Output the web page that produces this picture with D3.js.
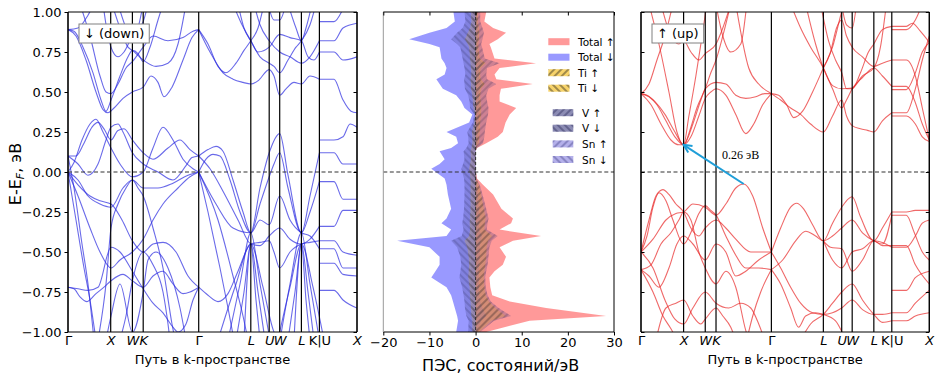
<!DOCTYPE html>
<html>
<head>
<meta charset="utf-8">
<script src="https://cdn.jsdelivr.net/npm/d3@7"></script>
<style>
  body { margin: 0; background: #fff; }
  text { font-family: "DejaVu Sans", sans-serif; }
</style>
</head>
<body>
<svg id="chart" width="941" height="382"></svg>
<script>
// ---------- k-path: positions of the high-symmetry points (arb. path units) ----------
const kTicks  = [0, 42.7, 64.4, 75.2, 130.7, 182.8, 201.2, 211.7, 233.4, 251.4, 289];
const kLabels = ["Γ", "X", "W", "K", "Γ", "L", "U", "W", "L", "K|U", "X"];
const kItalic = [false, true, true, true, false, true, true, true, true, false, true];
const eTicks  = [1, 0.75, 0.5, 0.25, 0, -0.25, -0.5, -0.75, -1];
const dosTicks = [-20, -10, 0, 10, 20, 30];

// ---------- spin-down bands, [k, E-EF] pairs ----------
const bandsDown = [
  // Γ-X-W-K-Γ, conduction
  [[0,0.89],[8,0.85],[18,0.7],[28,0.5],[35,0.39],[40,0.37],[46,0.4],[55,0.46],[64.4,0.5],[75.2,0.53],[83,0.6],[90,0.56],[96,0.47],[104,0.53],[115,0.7],[124,0.84],[130.7,0.89]],
  [[0,0.89],[6,0.88],[15,0.78],[25,0.62],[33,0.45],[38,0.38],[43,0.45],[52,0.6],[60,0.72],[64.4,0.76],[70,0.74],[75.2,0.69],[82,0.78],[90,0.95],[95,1.05]],
  [[0,0.89],[10,0.9],[20,0.98],[26,1.05]],
  [[12,1.05],[22,0.85],[32,0.6],[38,0.5],[43,0.49],[50,0.55],[58,0.65],[64.4,0.69],[75.2,0.78],[85,0.85],[100,0.82],[115,0.84],[125,0.88],[130.7,0.89]],
  [[35,1.05],[40,0.85],[43,0.78],[50,0.72],[56,0.75],[64.4,0.85],[75.2,0.94],[80,1.05]],
  [[44,1.05],[52,0.9],[60,0.78],[64.4,0.76],[75.2,0.7],[88,0.66],[100,0.68],[110,0.8],[118,1.05]],
  [[50,1.05],[58,0.9],[64.4,0.82],[70,0.9],[75.2,1.05]],
  // Γ-X-W-K-Γ, valence
  [[0,0.1],[8,0.1],[16,0.18],[24,0.28],[30,0.31],[36,0.27],[43,0.2],[50,0.26],[56,0.27],[64.4,0.2],[75.2,0.12],[85,0.08],[100,0.15],[112,0.2],[122,0.14],[130.7,0.1]],
  [[0,0],[6,0.06],[14,0.2],[22,0.3],[28,0.33],[35,0.25],[43,0.15],[52,0.05],[64.4,-0.03],[75.2,0],[85,0.15],[95,0.28],[105,0.2],[115,0.08],[125,0.02],[130.7,0]],
  [[0,0.1],[10,0.05],[20,-0.02],[30,0.05],[38,0.2],[43,0.28],[50,0.3],[55,0.25],[64.4,0.12],[75.2,0.05],[90,0],[105,-0.05],[118,0.04],[124,0.09],[130.7,0.1]],
  [[0,0],[10,-0.05],[20,-0.15],[32,-0.2],[43,-0.22],[55,-0.1],[64.4,-0.05],[75.2,-0.1],[90,-0.1],[105,-0.07],[120,-0.02],[130.7,0]],
  [[0,0],[10,-0.08],[22,-0.15],[32,-0.18],[43,-0.2],[54,-0.3],[64.4,-0.43],[75.2,-0.5],[85,-0.45],[95,-0.44],[108,-0.5],[120,-0.65],[130.7,-0.72]],
  [[0,0],[10,-0.15],[22,-0.35],[32,-0.5],[43,-0.6],[52,-0.55],[64.4,-0.5],[75.2,-0.42],[85,-0.3],[95,-0.2],[110,-0.1],[122,-0.03],[130.7,0]],
  [[0,-0.72],[6,-0.73],[12,-0.78],[19,-0.81],[28,-0.76],[36,-0.72],[43,-0.68],[55,-0.64],[64.4,-0.68],[75.2,-0.72],[85,-0.65],[95,-0.62],[105,-0.7],[115,-0.76],[122,-0.75],[130.7,-0.72]],
  [[0,-0.72],[10,-0.73],[20,-0.74],[30,-0.72],[43,-0.47],[52,-0.5],[64.4,-0.62],[75.2,-0.73],[85,-0.82],[95,-0.88],[105,-0.97],[110,-1],[118,-0.95],[125,-0.8],[130.7,-0.72]],
  [[0,0],[8,-0.3],[16,-0.6],[22,-0.8],[28,-1.05]],
  [[0,0.1],[6,-0.1],[14,-0.45],[20,-0.7],[26,-1.05]],
  [[30,-1.05],[38,-0.7],[43,-0.35],[50,-0.2],[58,-0.1],[64.4,-0.05],[70,-0.1],[75.2,-0.15],[85,-0.35],[95,-0.6],[104,-0.95],[107,-1.05]],
  [[38,-1.05],[43,-0.9],[52,-0.7],[64.4,-1],[75.2,-0.75],[80,-0.55],[88,-0.5],[100,-0.6],[112,-0.85],[118,-1.05]],
  [[52,-1.05],[58,-0.9],[64.4,-0.68],[75.2,-0.5],[85,-0.58],[95,-0.75],[100,-0.95],[102,-1.05]],
  // Γ-L-U-W-L-K, conduction
  [[130.7,0.89],[140,0.8],[150,0.66],[158,0.62],[168,0.68],[176,0.76],[182.8,0.82],[190,0.9],[196,1.05]],
  [[130.7,0.89],[142,0.75],[155,0.62],[165,0.58],[175,0.56],[182.8,0.55],[190,0.57],[201.2,0.64],[206,0.6],[211.7,0.48],[218,0.52],[226,0.56],[233.4,0.55],[242,0.6],[251.4,0.58]],
  [[165,1.05],[174,0.92],[182.8,0.82],[192,0.72],[201.2,0.68],[206,0.66],[211.7,0.62],[220,0.7],[228,0.78],[233.4,0.82],[242,0.92],[248,1.05]],
  [[170,1.05],[176,0.9],[182.8,0.82],[190,0.75],[201.2,0.78],[211.7,0.86],[222,0.84],[233.4,0.82],[240,0.72],[246,0.7],[251.4,0.75]],
  [[186,1.05],[192,0.92],[201.2,0.82],[211.7,0.75],[222,0.72],[233.4,0.68],[242,0.72],[251.4,0.82]],
  [[200,1.05],[206,0.95],[211.7,0.95],[218,1.05]],
  [[220,1.05],[228,0.9],[233.4,0.82],[238,0.9],[244,1.05]],
  // Γ-L-U-W-L-K, valence
  [[130.7,0.1],[140,0.14],[148,0.16],[155,0.13],[165,-0.05],[175,-0.25],[182.8,-0.38],[192,-0.1],[201.2,0.12],[211.7,0.24],[220,-0.02],[233.4,-0.38],[242,-0.15],[251.4,0.12]],
  [[130.7,0],[138,0.08],[145,0.11],[152,0.1],[162,-0.05],[172,-0.25],[182.8,-0.38],[192,-0.2],[201.2,-0.03],[206,0.05],[211.7,0.12],[220,-0.1],[233.4,-0.38],[242,-0.25],[251.4,-0.06]],
  [[130.7,0.1],[142,0.02],[155,-0.12],[170,-0.3],[182.8,-0.45],[192,-0.46],[201.2,-0.4],[211.7,-0.35],[222,-0.42],[233.4,-0.45],[242,-0.42],[251.4,-0.34]],
  [[130.7,-0.72],[140,-0.77],[150,-0.81],[160,-0.76],[170,-0.62],[182.8,-0.45],[192,-0.44],[201.2,-0.43],[206,-0.5],[211.7,-0.6],[222,-0.5],[233.4,-0.45],[242,-0.44],[251.4,-0.43]],
  [[130.7,0],[148,-0.2],[165,-0.35],[182.8,-0.38],[192,-0.3],[201.2,-0.33],[211.7,-0.15],[222,-0.3],[233.4,-0.38],[242,-0.4],[251.4,-0.48]],
  [[130.7,0],[150,-0.3],[165,-0.65],[175,-0.9],[180,-1.05]],
  [[130.7,0],[140,-0.25],[152,-0.6],[160,-0.85],[166,-1.05]],
  [[160,-1.05],[172,-0.7],[182.8,-0.38],[192,-0.7],[202,-1.05]],
  [[168,-1.05],[176,-0.75],[182.8,-0.45],[190,-0.75],[197,-1.05]],
  [[150,-1.05],[168,-0.7],[182.8,-0.45],[195,-0.72],[206,-1],[211.7,-1.05]],
  [[176,-1.05],[182.8,-0.45],[188,-0.8],[192,-1.05]],
  [[212,-1.05],[222,-0.7],[233.4,-0.38],[242,-0.7],[251.4,-1.05]],
  [[220,-1.05],[227,-0.75],[233.4,-0.45],[240,-0.75],[246,-1.05]],
  [[211.7,-1],[222,-0.72],[233.4,-0.45],[245,-0.72],[256,-1.05]],
  [[226,-1.05],[233.4,-0.45],[238,-0.8],[242,-1.05]],
  // K|U-X
  [[251.4,0.94],[266,0.94],[275,1.02]],
  [[251.4,0.82],[266,0.82],[275,0.9],[289,0.93]],
  [[251.4,0.75],[266,0.75],[275,0.7],[289,0.72]],
  [[251.4,0.58],[266,0.58],[275,0.45],[283,0.38],[289,0.37]],
  [[251.4,0.2],[266,0.2],[275,0.22],[282,0.3],[289,0.28]],
  [[251.4,0.12],[266,0.12],[275,0.05],[289,0.05]],
  [[251.4,-0.06],[266,-0.06],[275,-0.17],[289,-0.17]],
  [[251.4,-0.34],[266,-0.34],[275,-0.24],[289,-0.24]],
  [[251.4,-0.43],[266,-0.43],[275,-0.5],[289,-0.52]],
  [[251.4,-0.48],[266,-0.48],[275,-0.6],[289,-0.6]],
  [[251.4,-0.57],[266,-0.57],[275,-0.64],[289,-0.65]],
  [[251.4,-0.74],[266,-0.74],[275,-0.8],[289,-0.85]]
];

// ---------- spin-up bands ----------
const bandsUp = [
  // conduction, Γ-X-W-K-Γ
  [[0,0.49],[8,0.47],[16,0.42],[25,0.32],[34,0.22],[42.7,0.17],[50,0.22],[58,0.35],[64.4,0.46],[70,0.5],[75.2,0.52],[85,0.48],[95,0.36],[105,0.24],[113,0.3],[122,0.42],[130.7,0.49]],
  [[0,0.49],[6,0.48],[14,0.44],[24,0.36],[34,0.25],[42.7,0.17],[52,0.3],[60,0.45],[64.4,0.52],[75.2,0.56],[85,0.55],[95,0.48],[105,0.46],[115,0.47],[124,0.49],[130.7,0.49]],
  [[0,0.49],[10,0.42],[20,0.3],[30,0.2],[38,0.17],[42.7,0.17],[50,0.28],[56,0.4],[64.4,0.52],[70,0.62],[75.2,0.7],[82,0.85],[90,1.05]],
  [[8,1.05],[18,0.8],[28,0.5],[36,0.25],[42.7,0.17],[48,0.35],[55,0.6],[60,0.8],[66,1.05]],
  [[20,1.05],[30,0.85],[38,0.8],[42.7,0.82],[50,0.75],[58,0.7],[64.4,0.74],[75.2,0.8],[82,0.9],[90,1.05]],
  [[0,0.49],[8,0.55],[16,0.7],[24,0.85],[32,1.05]],
  [[75,1.05],[82,0.85],[90,0.75],[100,0.8],[106,1.05]],
  [[95,1.05],[108,0.65],[118,0.55],[130.7,0.49]],
  // conduction, Γ-L-U-W-L-K
  [[130.7,0.49],[138,0.48],[146,0.42],[153,0.34],[162,0.38],[172,0.5],[182.8,0.65],[192,0.78],[199,0.95],[203,1.05]],
  [[130.7,0.49],[140,0.45],[150,0.4],[160,0.36],[170,0.3],[182.8,0.25],[192,0.35],[201.2,0.45],[206,0.35],[211.7,0.29],[220,0.27],[227,0.26],[233.4,0.25],[242,0.32],[251.4,0.37]],
  [[150,1.05],[160,0.9],[170,0.78],[182.8,0.65],[192,0.52],[201.2,0.4],[206,0.45],[211.7,0.52],[222,0.59],[233.4,0.65],[242,0.6],[251.4,0.535]],
  [[165,1.05],[175,0.8],[182.8,0.65],[192,0.54],[201.2,0.52],[211.7,0.525],[222,0.6],[233.4,0.65],[240,0.78],[246,1.05]],
  [[180,1.05],[188,0.82],[195,0.7],[201.2,0.62],[206,0.52],[211.7,0.52],[220,0.62],[228,0.75],[233.4,0.8],[242,0.89],[251.4,0.91]],
  [[182.8,0.65],[190,0.75],[196,0.9],[201.2,0.95],[206,0.85],[211.7,0.78],[222,0.72],[233.4,0.66],[242,0.68],[251.4,0.7]],
  [[201,1.05],[206,0.92],[211.7,0.9],[216,1.05]],
  // conduction, K|U-X
  [[251.4,0.91],[266,0.91],[272,0.93],[280,0.88],[289,0.81]],
  [[251.4,0.89],[266,0.89],[275,0.95],[282,1.05]],
  [[251.4,0.7],[266,0.7],[275,0.6],[282,0.4],[289,0.2]],
  [[251.4,0.535],[266,0.535],[274,0.45],[282,0.3],[289,0.2]],
  [[251.4,0.515],[266,0.515],[275,0.62],[282,0.75],[289,0.81]],
  [[251.4,0.37],[266,0.37],[275,0.52],[282,0.7],[289,0.85]],
  [[251.4,0.35],[266,0.35],[275,0.3],[282,0.22],[289,0.19]],
  // valence, Γ-X-W-K-Γ
  [[0,-0.5],[12,-0.42],[25,-0.3],[35,-0.26],[42.7,-0.25],[52,-0.2],[64.4,-0.22],[75.2,-0.27],[85,-0.2],[95,-0.1],[103,-0.075],[112,-0.15],[122,-0.35],[130.7,-0.5]],
  [[0,-0.5],[8,-0.3],[15,-0.15],[22,-0.11],[28,-0.14],[35,-0.2],[42.7,-0.25],[50,-0.35],[58,-0.4],[64.4,-0.35],[75.2,-0.3],[85,-0.35],[95,-0.42],[110,-0.5],[122,-0.5],[130.7,-0.5]],
  [[0,-0.5],[6,-0.4],[12,-0.22],[18,-0.13],[25,-0.18],[32,-0.3],[42.7,-0.45],[52,-0.35],[58,-0.26],[64.4,-0.21],[70,-0.24],[75.2,-0.27],[85,-0.4],[95,-0.52],[105,-0.6],[118,-0.6],[130.7,-0.61]],
  [[0,-0.61],[8,-0.65],[18,-0.72],[28,-0.6],[36,-0.45],[42.7,-0.4],[52,-0.45],[64.4,-0.55],[75.2,-0.45],[85,-0.5],[95,-0.65],[105,-0.62],[118,-0.55],[130.7,-0.5]],
  [[0,-0.61],[10,-0.58],[20,-0.45],[30,-0.38],[38,-0.3],[42.7,-0.25],[50,-0.3],[58,-0.5],[64.4,-0.6],[75.2,-0.7],[85,-0.62],[95,-0.72],[105,-0.99],[108,-1.05]],
  [[0,-0.5],[12,-0.6],[24,-0.8],[34,-0.92],[42.7,-0.95],[52,-0.85],[64.4,-0.75],[75.2,-0.82],[88,-0.85],[100,-0.82],[110,-0.85],[118,-0.95],[124,-1.05]],
  [[0,-0.61],[12,-0.75],[22,-0.9],[30,-0.98],[36,-1.05]],
  [[15,-1.05],[25,-0.85],[35,-0.82],[42.7,-0.8],[52,-0.9],[60,-0.95],[64.4,-0.92],[75.2,-0.85],[82,-0.9],[90,-0.97],[95,-1.05]],
  [[106,-1.05],[112,-0.9],[120,-0.75],[130.7,-0.61]],
  // valence, Γ-L-U-W-L-K
  [[130.7,-0.5],[140,-0.35],[150,-0.22],[156,-0.195],[163,-0.23],[172,-0.33],[182.8,-0.43],[192,-0.32],[201.2,-0.22],[206,-0.18],[211.7,-0.155],[220,-0.28],[233.4,-0.43],[242,-0.35],[251.4,-0.25]],
  [[130.7,-0.61],[142,-0.55],[155,-0.43],[165,-0.37],[175,-0.4],[182.8,-0.43],[192,-0.4],[201.2,-0.35],[211.7,-0.3],[222,-0.38],[233.4,-0.43],[242,-0.45],[251.4,-0.27]],
  [[130.7,-0.5],[140,-0.6],[150,-0.72],[160,-0.82],[172,-0.88],[182.8,-0.89],[192,-0.88],[201.2,-0.85],[211.7,-0.8],[222,-0.86],[233.4,-0.89],[242,-0.89],[251.4,-0.88]],
  [[130.7,-0.61],[140,-0.7],[150,-0.85],[158,-0.97],[165,-0.9],[175,-0.88],[182.8,-0.89],[195,-0.93],[205,-1.05]],
  [[182.8,-0.43],[192,-0.55],[201.2,-0.6],[211.7,-0.5],[222,-0.48],[233.4,-0.43],[242,-0.46],[251.4,-0.46]],
  [[182.8,-0.43],[190,-0.47],[201.2,-0.48],[211.7,-0.62],[222,-0.55],[233.4,-0.43],[242,-0.44],[251.4,-0.47]],
  [[160,-1.05],[170,-0.95],[182.8,-0.89],[192,-0.82],[201.2,-0.75],[211.7,-0.7],[222,-0.8],[233.4,-0.89],[242,-0.94],[251.4,-0.93]],
  // valence, K|U-X
  [[251.4,-0.25],[266,-0.25],[275,-0.24],[289,-0.24]],
  [[251.4,-0.27],[266,-0.27],[274,-0.38],[282,-0.5],[289,-0.55]],
  [[251.4,-0.46],[266,-0.46],[275,-0.58],[289,-0.7]],
  [[251.4,-0.47],[266,-0.47],[275,-0.4],[282,-0.32],[289,-0.3]],
  [[251.4,-0.74],[266,-0.74],[275,-0.66],[289,-0.62]],
  [[251.4,-0.88],[266,-0.88],[275,-0.82],[289,-0.74]],
  [[251.4,-0.93],[266,-0.93],[275,-0.9],[289,-0.88]]
];

// indirect gap arrow (spin up): from VBM to CBM, [k, E]
const gapFrom = [103, -0.075];
const gapTo = [42.7, 0.17];
const gapLabel = "0.26 эВ";

// ---------- DOS, states/eV, on one energy grid ----------
const dosE = [1.00,0.94,0.90,0.87,0.83,0.80,0.78,0.71,0.68,0.65,0.61,0.58,0.55,0.52,0.48,0.44,0.40,0.36,0.31,0.25,0.22,0.18,0.15,0.13,0.08,0.05,0.02,-0.04,-0.08,-0.14,-0.23,-0.29,-0.32,-0.36,-0.40,-0.43,-0.47,-0.53,-0.58,-0.62,-0.66,-0.72,-0.77,-0.81,-0.85,-0.90,-0.93,-1.00];
const totalUp = [2.3,1.9,3.8,6.6,4.8,3.0,3.3,4.1,13.1,5.2,4.1,4.5,12.4,5.5,5.2,5.2,8.8,7.4,6.5,5.9,4.8,2.3,0.3,0,0,0,0,0.3,1.6,3.8,5.6,8.1,7.7,5.2,14.2,8.1,5.2,6.6,5.9,4.1,3.0,3.2,3.6,7.4,15.3,28.3,11.7,2.3];
const totalDown = [-4.8,-4.5,-6.3,-10.0,-14.4,-10.0,-7.8,-7.4,-6.7,-6.3,-6.7,-8.5,-7.8,-7.1,-4.2,-3.1,-2.4,-0.7,-1.4,-6.3,-4.2,-3.8,-5.3,-7.8,-6.7,-7.8,-9.6,-6.7,-6.3,-6.0,-5.3,-6.3,-7.4,-5.3,-6.3,-17.0,-10.0,-7.8,-7.8,-8.7,-9.6,-6.3,-5.3,-4.9,-4.5,-4.0,-3.8,-4.2];
const vUp = [1.0,1.0,1.5,1.8,1.5,1.2,1.4,2.0,5.2,2.5,2.3,2.5,4.5,2.8,2.3,2.5,2.8,2.7,2.3,2.0,1.9,1.6,0.3,0,0,0,0,0.2,0.9,1.5,2.3,2.8,2.6,2.4,4.8,3.5,3.0,2.8,2.6,2.3,2.1,2.2,2.6,3.3,5.0,7.7,4.0,1.0];
const vDown = [-2.4,-2.2,-2.8,-4.0,-5.3,-4.0,-3.3,-2.8,-2.6,-2.4,-2.2,-2.5,-2.4,-2.3,-1.6,-1.3,-1.2,-0.3,-0.6,-1.8,-1.6,-1.5,-2.0,-2.6,-2.4,-2.7,-3.1,-2.5,-2.4,-2.4,-2.5,-2.7,-2.9,-2.6,-3.0,-5.3,-4.0,-3.3,-3.1,-3.3,-3.5,-2.9,-2.6,-2.4,-2.3,-2.0,-1.5,-1.6];
const tiUp = [0.5,0.5,0.7,0.8,0.7,0.6,0.6,0.9,2.2,1.1,1.0,1.1,2.0,1.2,1.0,1.1,1.2,1.2,1.0,0.9,0.8,0.7,0.1,0,0,0,0,0.1,0.7,1.2,1.8,2.2,2.0,1.9,3.6,2.7,2.4,2.3,2.1,1.9,1.8,1.9,2.2,2.9,4.3,6.5,3.4,0.8];
const tiDown = [-1.0,-0.9,-1.2,-1.7,-2.3,-1.7,-1.4,-1.2,-1.1,-1.0,-0.9,-1.1,-1.0,-1.0,-0.7,-0.6,-0.5,-0.1,-0.3,-0.8,-0.7,-0.7,-0.9,-1.1,-1.0,-1.2,-1.4,-1.1,-1.1,-1.1,-1.1,-1.2,-1.3,-1.2,-1.4,-2.4,-1.8,-1.5,-1.4,-1.5,-1.6,-1.3,-1.2,-1.1,-1.0,-0.9,-0.7,-0.7];
const snUp = [0.3,0.3,0.5,0.6,0.5,0.4,0.4,0.6,1.5,0.8,0.7,0.8,1.4,0.9,0.7,0.8,0.9,0.8,0.7,0.6,0.6,0.5,0.1,0,0,0,0,0.1,0.3,0.5,0.7,0.9,0.8,0.7,1.4,1.1,0.9,0.9,0.8,0.7,0.7,0.7,0.8,1.0,1.5,2.3,1.2,0.3];
const snDown = [-0.7,-0.7,-0.8,-1.2,-1.6,-1.2,-1.0,-0.8,-0.8,-0.7,-0.7,-0.8,-0.7,-0.7,-0.5,-0.4,-0.4,-0.1,-0.2,-0.5,-0.5,-0.5,-0.6,-0.8,-0.7,-0.8,-0.9,-0.8,-0.7,-0.7,-0.8,-0.8,-0.9,-0.8,-0.9,-1.6,-1.2,-1.0,-0.9,-1.0,-1.1,-0.9,-0.8,-0.7,-0.7,-0.6,-0.5,-0.5];

const legendTotals = ["Total ↑", "Total ↓", "Ti ↑", "Ti ↓"];
const legendAtoms = ["V ↑", "V ↓", "Sn ↑", "Sn ↓"];

// ---------- layout ----------
const svg = d3.select("#chart");
const yE = d3.scaleLinear().domain([-1, 1]).range([332, 12]);
const xDown = d3.scaleLinear().domain([0, 289]).range([68, 357]);
const xUp = d3.scaleLinear().domain([0, 289]).range([641, 929.3]);
const xDos = d3.scaleLinear().domain([-20, 30]).range([383.3, 614]);

const defs = svg.append("defs");

function addClip(id, x0, x1) {
  defs.append("clipPath").attr("id", id).append("rect")
    .attr("x", x0).attr("y", yE(1)).attr("width", x1 - x0).attr("height", yE(-1) - yE(1));
}

// hatch patterns: dir +1 = "///", -1 = "\\\"
function addHatch(id, dir, color, op) {
  const p = defs.append("pattern").attr("id", id)
    .attr("patternUnits", "userSpaceOnUse").attr("width", 5).attr("height", 5)
    .attr("patternTransform", "rotate(" + (dir > 0 ? 45 : -45) + ")");
  p.append("line").attr("x1", 1).attr("y1", 0).attr("x2", 1).attr("y2", 5)
    .attr("stroke", color).attr("stroke-width", 0.9).attr("stroke-opacity", op);
}
addHatch("hTiUp", 1, "#111", 0.4);
addHatch("hTiDn", -1, "#111", 0.4);
addHatch("hVUp", 1, "#1c1c4a", 0.4);
addHatch("hVDn", -1, "#1c1c4a", 0.4);
addHatch("hSnUp", 1, "#2a2a70", 0.35);
addHatch("hSnDn", -1, "#2a2a70", 0.35);
// legend versions are crisper
addHatch("lTiUp", 1, "#111", 0.85);
addHatch("lTiDn", -1, "#111", 0.85);
addHatch("lVUp", 1, "#1c1c4a", 0.8);
addHatch("lVDn", -1, "#1c1c4a", 0.8);
addHatch("lSnUp", 1, "#2a2a70", 0.7);
addHatch("lSnDn", -1, "#2a2a70", 0.7);

function zeroLine(x0, x1) {
  svg.append("line").attr("x1", x0).attr("x2", x1).attr("y1", yE(0)).attr("y2", yE(0))
    .attr("stroke", "#333").attr("stroke-width", 1.2).attr("stroke-dasharray", "4,2.5");
}

function frame(x0, x1, leftColor) {
  const g = svg.append("g").attr("fill", "none").attr("stroke-width", 1);
  g.append("line").attr("x1", x0).attr("x2", x1).attr("y1", yE(1)).attr("y2", yE(1)).attr("stroke", "#000");
  g.append("line").attr("x1", x0).attr("x2", x1).attr("y1", yE(-1)).attr("y2", yE(-1)).attr("stroke", "#000");
  g.append("line").attr("x1", x1).attr("x2", x1).attr("y1", yE(1)).attr("y2", yE(-1)).attr("stroke", "#000");
  g.append("line").attr("x1", x0).attr("x2", x0).attr("y1", yE(1)).attr("y2", yE(-1)).attr("stroke", leftColor || "#000");
}

function styleAxis(g, size) {
  g.attr("font-size", size);
  g.select(".domain").remove();
  g.selectAll("line").attr("stroke", "#000");
  g.selectAll("text").attr("fill", "#000");
}

function boxLabel(x, y, txt) {
  const g = svg.append("g");
  const t = g.append("text").attr("x", x).attr("y", y).attr("font-size", 13).text(txt);
  const b = t.node().getBBox();
  g.insert("rect", "text").attr("x", b.x - 5).attr("y", b.y - 2)
    .attr("width", b.width + 10).attr("height", b.height + 4)
    .attr("fill", "#fff").attr("stroke", "#808080").attr("stroke-width", 1);
}

function bandPanel(x, bands, color, clipId, title, withLabels) {
  const [x0, x1] = x.range();
  addClip(clipId, x0, x1);
  const line = d3.line().x(d => x(d[0])).y(d => yE(d[1])).curve(d3.curveMonotoneX);
  svg.append("g").attr("clip-path", "url(#" + clipId + ")")
    .selectAll("path").data(bands).join("path")
    .attr("d", line).attr("fill", "none")
    .attr("stroke", color).attr("stroke-width", 1.1).attr("stroke-opacity", 0.7);

  svg.append("g").selectAll("line").data(kTicks).join("line")
    .attr("x1", d => x(d)).attr("x2", d => x(d))
    .attr("y1", yE(1)).attr("y2", yE(-1))
    .attr("stroke", "#000").attr("stroke-width", 1.2);

  zeroLine(x0, x1);
  frame(x0, x1);

  // k-point labels
  const gx = svg.append("g").attr("transform", "translate(0," + yE(-1) + ")")
    .call(d3.axisBottom(x).tickValues(kTicks).tickFormat((d, i) => kLabels[i]).tickSize(0).tickPadding(4));
  styleAxis(gx, 13);
  gx.selectAll("text").attr("font-style", (d, i) => kItalic[i] ? "italic" : "normal");

  svg.append("text").attr("x", (x0 + x1) / 2).attr("y", 364)
    .attr("text-anchor", "middle").attr("font-size", 13).text("Путь в k-пространстве");

  // energy ticks
  if (withLabels) {
    const gy = svg.append("g").attr("transform", "translate(" + x0 + ",0)")
      .call(d3.axisLeft(yE).tickValues(eTicks).tickFormat(d3.format(".2f")).tickSize(3.5).tickPadding(3));
    styleAxis(gy, 13);
  } else {
    const gl = svg.append("g").attr("transform", "translate(" + x0 + ",0)")
      .call(d3.axisRight(yE).tickValues(eTicks).tickFormat("").tickSize(3.5));
    styleAxis(gl, 13);
  }
  const gr = svg.append("g").attr("transform", "translate(" + x1 + ",0)")
    .call(d3.axisLeft(yE).tickValues(eTicks).tickFormat("").tickSize(3.5));
  styleAxis(gr, 13);

  boxLabel(x0 + 16, 38, title);
}

// ---------- left: spin down ----------
bandPanel(xDown, bandsDown, "#2b2be0", "clipDown", "↓ (down)", true);

const yl = svg.append("text").attr("transform", "translate(21,174) rotate(-90)")
  .attr("text-anchor", "middle").attr("font-size", 16);
yl.append("tspan").text("E-E");
yl.append("tspan").attr("font-size", 11).attr("font-style", "italic").attr("dy", 3).text("F");
yl.append("tspan").attr("dy", -3).text(", эВ");

// ---------- right: spin up ----------
bandPanel(xUp, bandsUp, "#e82a2a", "clipUp", "↑ (up)", false);

// gap arrow
const ax0 = xUp(gapFrom[0]), ay0 = yE(gapFrom[1]);
const ax1 = xUp(gapTo[0]), ay1 = yE(gapTo[1]);
const ang = Math.atan2(ay1 - ay0, ax1 - ax0);
const head = 9, spread = 0.45;
svg.append("line").attr("x1", ax0).attr("y1", ay0).attr("x2", ax1).attr("y2", ay1)
  .attr("stroke", "#1f9ed8").attr("stroke-width", 2);
svg.append("path")
  .attr("d", "M" + (ax1 - head * Math.cos(ang - spread)) + "," + (ay1 - head * Math.sin(ang - spread)) +
    "L" + ax1 + "," + ay1 +
    "L" + (ax1 - head * Math.cos(ang + spread)) + "," + (ay1 - head * Math.sin(ang + spread)))
  .attr("fill", "none").attr("stroke", "#1f9ed8").attr("stroke-width", 2);
svg.append("text").attr("x", 722).attr("y", 159)
  .style("font-family", "'Liberation Serif', 'DejaVu Serif', serif").attr("font-size", 12).text(gapLabel);

// ---------- middle: DOS ----------
const [dx0, dx1] = xDos.range();
addClip("clipDos", dx0, dx1);
const dosG = svg.append("g").attr("clip-path", "url(#clipDos)");

function dosArea(vals) {
  return d3.area()
    .y((d, i) => yE(dosE[i]))
    .x0(xDos(0))
    .x1(d => xDos(d))(vals);
}

dosG.append("path").attr("d", dosArea(totalUp)).attr("fill", "red").attr("fill-opacity", 0.4);
dosG.append("path").attr("d", dosArea(totalDown)).attr("fill", "blue").attr("fill-opacity", 0.4);

const partials = [
  { vals: vUp, fill: "#3a3a80", op: 0.25, hatch: "hVUp" },
  { vals: vDown, fill: "#3a3a80", op: 0.25, hatch: "hVDn" },
  { vals: snUp, fill: "#6a5acd", op: 0.2, hatch: "hSnUp" },
  { vals: snDown, fill: "#6a5acd", op: 0.2, hatch: "hSnDn" },
  { vals: tiUp, fill: "#f2b705", op: 0.2, hatch: "hTiUp" },
  { vals: tiDown, fill: "#f2b705", op: 0.2, hatch: "hTiDn" }
];
partials.forEach(p => {
  dosG.append("path").attr("d", dosArea(p.vals)).attr("fill", p.fill).attr("fill-opacity", p.op);
  dosG.append("path").attr("d", dosArea(p.vals)).attr("fill", "url(#" + p.hatch + ")");
});

zeroLine(dx0, dx1);
svg.append("line").attr("x1", xDos(0)).attr("x2", xDos(0)).attr("y1", yE(1)).attr("y2", yE(-1))
  .attr("stroke", "#333").attr("stroke-width", 1.1).attr("stroke-dasharray", "3,2");
frame(dx0, dx1, "#999");

const gxd = svg.append("g").attr("transform", "translate(0," + yE(-1) + ")")
  .call(d3.axisBottom(xDos).tickValues(dosTicks).tickFormat(d3.format("d")).tickSize(3.5).tickPadding(2));
styleAxis(gxd, 13);
const gxt = svg.append("g").attr("transform", "translate(0," + yE(1) + ")")
  .call(d3.axisBottom(xDos).tickValues(dosTicks).tickFormat("").tickSize(3.5));
styleAxis(gxt, 13);

svg.append("text").attr("x", (dx0 + dx1) / 2 + 2).attr("y", 371)
  .attr("text-anchor", "middle").attr("font-size", 16).text("ПЭС, состояний/эВ");

// ---------- legends ----------
const legStyles = [
  [{ fill: "#ff9999" }, { fill: "#9999ff" },
   { fill: "#f7d36a", hatch: "lTiUp" }, { fill: "#f7d36a", hatch: "lTiDn" }],
  [{ fill: "#8c8cb4", hatch: "lVUp" }, { fill: "#8c8cb4", hatch: "lVDn" },
   { fill: "#b4b0ea", hatch: "lSnUp" }, { fill: "#b4b0ea", hatch: "lSnDn" }]
];
const legRows = [[41.7, 57.2, 72.7, 88.2], [112.7, 128.2, 143.9, 159.5]];
const legX = [[548.3, 569.5, 578], [552.7, 573.3, 582]];
[legendTotals, legendAtoms].forEach((names, li) => {
  const g = svg.append("g");
  names.forEach((nm, i) => {
    const st = legStyles[li][i];
    const y = legRows[li][i];
    g.append("rect").attr("x", legX[li][0]).attr("y", y - 3.5)
      .attr("width", legX[li][1] - legX[li][0]).attr("height", 7).attr("fill", st.fill);
    if (st.hatch) {
      g.append("rect").attr("x", legX[li][0]).attr("y", y - 3.5)
        .attr("width", legX[li][1] - legX[li][0]).attr("height", 7).attr("fill", "url(#" + st.hatch + ")");
    }
    g.append("text").attr("x", legX[li][2]).attr("y", y + 4).attr("font-size", 10.5).text(nm);
  });
});
</script>
</body>
</html>
